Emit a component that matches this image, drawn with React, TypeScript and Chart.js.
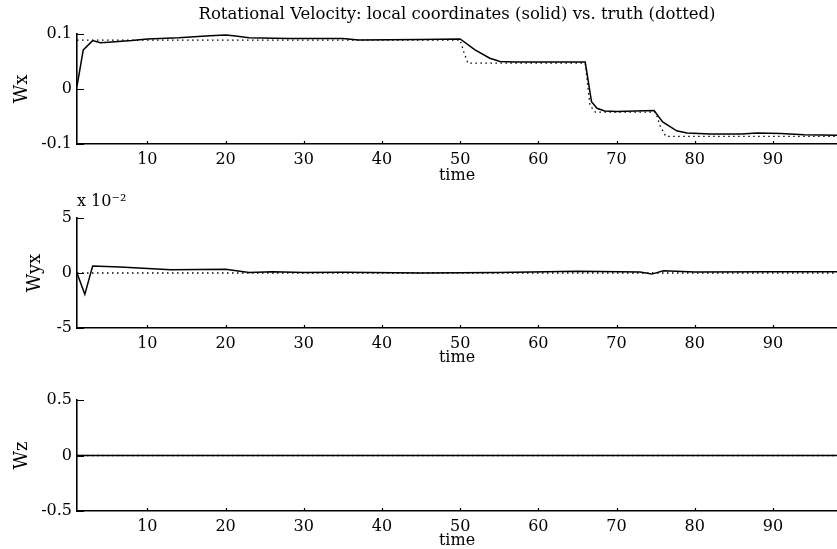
import React, { useEffect, useRef } from "react";
import { Chart, registerables } from "chart.js";
Chart.register(...registerables);

// ---------- data ----------
const TITLE = "Rotational Velocity: local coordinates (solid) vs. truth (dotted)";
const X_TITLE = "time";
const X_MIN = 1;
const X_MAX = 98.2;
const X_TICKS = [10, 20, 30, 40, 50, 60, 70, 80, 90];

const WX_TICKS = [-0.1, 0, 0.1];
const WX_TICK_LABELS = ["-0.1", "0", "0.1"];
const wxEstTime = [1, 1.8, 3, 4, 5, 8, 10, 14, 18, 20, 21, 23, 28, 35, 37, 45, 50, 51.9, 53.8, 55.1, 57, 66, 66.8, 67.5, 68.5, 70, 74.8, 75.9, 77.7, 79, 82, 86, 88, 91, 94, 98.2];
const wxEst = [0.005, 0.071, 0.088, 0.084, 0.085, 0.088, 0.091, 0.093, 0.097, 0.098, 0.097, 0.093, 0.092, 0.092, 0.089, 0.09, 0.091, 0.071, 0.056, 0.05, 0.049, 0.049, -0.023, -0.035, -0.04, -0.041, -0.039, -0.06, -0.076, -0.08, -0.082, -0.082, -0.08, -0.081, -0.083, -0.084];
const wxTrueTime = [1, 50, 50.5, 51, 66, 66.6, 67.3, 75, 75.6, 76.3, 98.2];
const wxTrue = [0.089, 0.089, 0.066, 0.047, 0.047, -0.03, -0.042, -0.042, -0.068, -0.086, -0.086];

const WYX_TICKS = [-5, 0, 5];
const WYX_TICK_LABELS = ["-5", "0", "5"];
const WYX_EXP = "x 10\u207B\u00B2";
// values in units of 10^-2
const wyxEstTime = [1, 2, 3, 6.5, 13, 20, 23, 26, 30, 35, 45, 55, 65, 73, 74.5, 76, 80, 90, 98.2];
const wyxEst = [0, -1.94, 0.64, 0.55, 0.3, 0.33, 0.05, 0.12, 0.04, 0.06, 0.0, 0.05, 0.15, 0.1, -0.1, 0.2, 0.1, 0.12, 0.12];
const wyxTrueTime = [1, 25, 50, 75, 98.2];
const wyxTrue = [0, 0, 0, 0, 0];

const WZ_TICKS = [-0.5, 0, 0.5];
const WZ_TICK_LABELS = ["-0.5", "0", "0.5"];
const wzEstTime = [1, 25, 50, 75, 98.2];
const wzEst = [0, 0, 0, 0, 0];
const wzTrueTime = [1, 25, 50, 75, 98.2];
const wzTrue = [0, 0, 0, 0, 0];

// ---------- helpers ----------
const FONT = "'DejaVu Serif', 'Liberation Serif', serif";
const W = 837;
const AXIS_W = 77;

const pts = (xs: number[], ys: number[]) => xs.map((x, i) => ({ x, y: ys[i] }));

const inwardTicks = {
  id: "inwardTicks",
  afterDatasetsDraw(chart: any) {
    const { ctx, chartArea, scales } = chart;
    ctx.save();
    ctx.strokeStyle = "#000";
    ctx.lineWidth = 1.2;
    ctx.beginPath();
    scales.y.ticks.forEach((t: any) => {
      const py = Math.round(scales.y.getPixelForValue(t.value)) + 0.5;
      ctx.moveTo(chartArea.left, py);
      ctx.lineTo(chartArea.left + 7, py);
    });
    scales.x.ticks.forEach((t: any) => {
      const px = Math.round(scales.x.getPixelForValue(t.value)) + 0.5;
      ctx.moveTo(px, chartArea.bottom);
      ctx.lineTo(px, chartArea.bottom - 3);
    });
    ctx.stroke();
    ctx.restore();
  },
};

type Spec = {
  top: number;
  height: number;
  layoutTop: number;
  title?: { text: string; align: "start" | "center"; size: number; padTop: number; padBottom: number };
  yLabel: string;
  yLabelPad: number;
  yMin: number;
  yMax: number;
  yTicks: number[];
  yTickLabels: string[];
  est: { x: number[]; y: number[] };
  truth: { x: number[]; y: number[] };
  xAxisHeight: number;
  xTitlePad: number;
};

function Panel({ spec }: { spec: Spec }) {
  const ref = useRef<HTMLCanvasElement>(null);
  useEffect(() => {
    const chart = new Chart(ref.current as HTMLCanvasElement, {
      type: "line",
      data: {
        datasets: [
          {
            data: pts(spec.truth.x, spec.truth.y),
            borderColor: "#000",
            borderWidth: 1.3,
            borderDash: [1.5, 3.5],
            pointRadius: 0,
            tension: 0,
            fill: false,
          },
          {
            data: pts(spec.est.x, spec.est.y),
            borderColor: "#000",
            borderWidth: 1.5,
            pointRadius: 0,
            tension: 0,
            fill: false,
          },
        ],
      },
      options: {
        animation: false,
        responsive: false,
        events: [],
        layout: { padding: { top: spec.title ? 0 : spec.layoutTop, left: 0, right: 0, bottom: 0 } },
        plugins: {
          legend: { display: false },
          tooltip: { enabled: false },
          title: spec.title
            ? {
                display: true,
                text: spec.title.text,
                align: spec.title.align,
                fullSize: false,
                color: "#000",
                font: { family: FONT, size: spec.title.size, weight: "normal", lineHeight: 1.2 },
                padding: { top: spec.title.padTop, bottom: spec.title.padBottom },
              }
            : { display: false },
        },
        scales: {
          x: {
            type: "linear",
            min: X_MIN,
            max: X_MAX,
            grid: { display: false, drawTicks: false },
            border: { display: true, color: "#000", width: 1.6 },
            afterBuildTicks: (s: any) => {
              s.ticks = X_TICKS.map((v) => ({ value: v }));
            },
            afterFit: (s: any) => {
              s.height = spec.xAxisHeight;
            },
            ticks: {
              color: "#000",
              font: { family: FONT, size: 16 },
              padding: 6,
              maxRotation: 0,
              autoSkip: false,
              callback: (v: any) => String(v),
            },
            title: {
              display: true,
              text: X_TITLE,
              color: "#000",
              font: { family: FONT, size: 16, lineHeight: 1.0 },
              padding: { top: 0, bottom: spec.xTitlePad },
            },
          },
          y: {
            type: "linear",
            min: spec.yMin,
            max: spec.yMax,
            grid: { display: false, drawTicks: false },
            border: { display: true, color: "#000", width: 1.6 },
            afterBuildTicks: (s: any) => {
              s.ticks = spec.yTicks.map((v) => ({ value: v }));
            },
            afterFit: (s: any) => {
              s.width = AXIS_W;
            },
            ticks: {
              color: "#000",
              font: { family: FONT, size: 16 },
              padding: 5,
              autoSkip: false,
              callback: (v: any) => {
                const i = spec.yTicks.indexOf(Number(v));
                return i >= 0 ? spec.yTickLabels[i] : "";
              },
            },
            title: {
              display: true,
              text: spec.yLabel,
              color: "#000",
              font: { family: FONT, size: 18, lineHeight: 1.0 },
              padding: { top: spec.yLabelPad, bottom: 0 },
            },
          },
        },
      },
      plugins: [inwardTicks],
    } as any);
    return () => chart.destroy();
  }, []);
  return (
    <canvas
      ref={ref}
      width={W}
      height={spec.height}
      style={{ position: "absolute", left: 0, top: spec.top, width: W, height: spec.height, display: "block" }}
    />
  );
}

const specs: Spec[] = [
  {
    top: 0,
    height: 185,
    layoutTop: 0,
    title: { text: TITLE, align: "center", size: 16.5, padTop: 5, padBottom: 9.2 },
    yLabel: "Wx",
    yLabelPad: 13,
    yMin: -0.1,
    yMax: 0.1,
    yTicks: WX_TICKS,
    yTickLabels: WX_TICK_LABELS,
    est: { x: wxEstTime, y: wxEst },
    truth: { x: wxTrueTime, y: wxTrue },
    xAxisHeight: 41,
    xTitlePad: 1,
  },
  {
    top: 185,
    height: 185,
    layoutTop: 0,
    title: { text: WYX_EXP, align: "start", size: 16, padTop: 7, padBottom: 6.8 },
    yLabel: "Wyx",
    yLabelPad: 26,
    yMin: -5,
    yMax: 5,
    yTicks: WYX_TICKS,
    yTickLabels: WYX_TICK_LABELS,
    est: { x: wyxEstTime, y: wyxEst },
    truth: { x: wyxTrueTime, y: wyxTrue },
    xAxisHeight: 42,
    xTitlePad: 4,
  },
  {
    top: 370,
    height: 179,
    layoutTop: 30,
    yLabel: "Wz",
    yLabelPad: 13,
    yMin: -0.5,
    yMax: 0.5,
    yTicks: WZ_TICKS,
    yTickLabels: WZ_TICK_LABELS,
    est: { x: wzEstTime, y: wzEst },
    truth: { x: wzTrueTime, y: wzTrue },
    xAxisHeight: 38,
    xTitlePad: 0,
  },
];

export default function App() {
  return (
    <div
      style={{
        position: "fixed",
        left: 0,
        top: 0,
        width: W,
        height: 549,
        background: "#fff",
        overflow: "hidden",
      }}
    >
      {specs.map((s, i) => (
        <Panel key={i} spec={s} />
      ))}
    </div>
  );
}
